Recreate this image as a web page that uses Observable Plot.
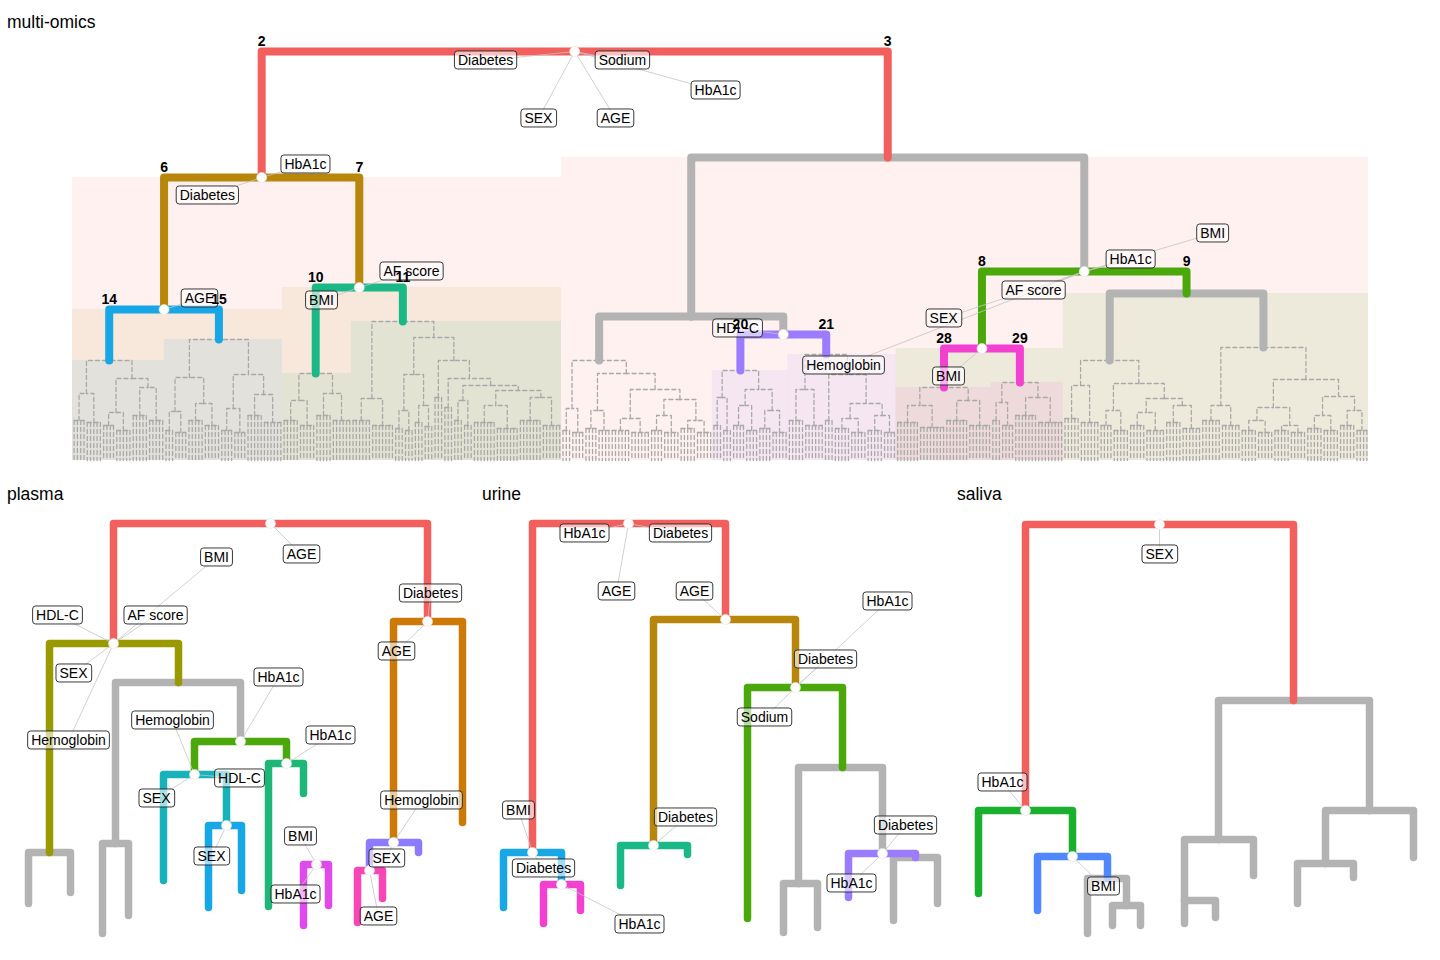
<!DOCTYPE html>
<html><head><meta charset="utf-8">
<script src="https://cdn.jsdelivr.net/npm/d3@7"></script>
<script src="https://cdn.jsdelivr.net/npm/@observablehq/plot@0.6"></script>
<style>
body{margin:0;background:#fff;font-family:"Liberation Sans",Arial,Helvetica,sans-serif;}
#wrap{position:relative;width:1440px;height:960px;overflow:hidden;background:#fff}
.title{position:absolute;font-size:17.5px;color:#000;line-height:20px;font-family:"Liberation Sans",Arial,sans-serif}
</style></head>
<body><div id="wrap">
<div class="title" style="left:7px;top:12px">multi-omics</div>
<div class="title" style="left:7px;top:484px">plasma</div>
<div class="title" style="left:482px;top:484px">urine</div>
<div class="title" style="left:957px;top:484px">saliva</div>
</div>
<script>
// ===================== DATA =====================
// ---- multi-omics: dashed sub-dendrograms under each cluster, in leaf order.
// internal node = [height, left, right]; leaf bundle = [height, leafCount]
const moSubtreeOrder = ["S14","S15","S10","S11","Sg1","S20","S21","S28","S29","Sg2","Sg3"];
const moSubtrees = {
  S14: [100, [67,[40,4],[38,5]], [82,[48,[35,4],[30,5]],[73,[45,5],[40,5]]]],
  S15: [121, [83,[49,[30,3],[28,4]],[57,[40,5],[35,5]]], [86,[52,[30,4],[28,4]],[66,[45,5],[38,6]]]],
  S10: [87, [60,[40,5],[35,5]], [67,[45,5],[40,6]]],
  S11: [139, [62,[40,6],[35,7]],
        [123, [86,[50,[32,3],[30,3]],[55,[38,3],[34,3]]],
              [100, [63,3], [82, [53,3], [75, [60,[40,3],[35,3]], [70,[55,[38,7],[32,7]],[63,[40,7],[35,6]]]]]]]],
  Sg1: [100, [52,[30,3],[28,4]], [87, [50,[32,4],[30,4]], [71, [42,[30,6],[28,6]], [61,[45,[30,4],[28,5]],[40,[32,5],[28,5]]]]]],
  S20: [90, [63,[35,3],[30,3]], [71,[55,[35,4],[30,4]],[50,[32,4],[28,5]]]],
  S21: [106, [71,[40,5],[35,6]], [86, [40,3], [57,[42,[32,5],[28,5]],[45,[30,5],[28,4]]]]],
  S28: [73, [55,[38,7],[33,8]], [60,[40,7],[35,7]]],
  S29: [78, [58,[40,3],[35,4]], [63,[45,7],[38,8]]],
  Sg2: [100, [75,[42,5],[38,6]], [77,[50,[35,4],[30,5]],[62,[48,[35,5],[30,6]],[55,[38,5],[32,6]]]]],
  Sg3: [113, [55,[40,6],[35,6]], [81,[53,[40,[30,5],[28,5]],[35,[30,5],[28,5]]],[64,[45,[32,5],[30,5]],[50,[35,5],[30,4]]]]]
};
// upper tree: [id, parent, height, cluster]; terminals take height from their sub-dendrogram
const moTree = [
  ["root", null, 409, "A"],
  ["n2","root",283,"A"], ["n3","root",303,"A"],
  ["n6","n2",151,"B"], ["n7","n2",173,"B"],
  ["S14","n6",null,"C"], ["S15","n6",null,"C"],
  ["S10","n7",null,"D"], ["S11","n7",null,"D"],
  ["gA","n3",144,"G"], ["gB","n3",189,"G"],
  ["Sg1","gA",null,"G"], ["gP","gA",126,"G"],
  ["S20","gP",null,"E"], ["S21","gP",null,"E"],
  ["n8","gB",112,"F"], ["n9","gB",167,"F"],
  ["S28","n8",null,"H"], ["S29","n8",null,"H"],
  ["Sg2","n9",null,"G"], ["Sg3","n9",null,"G"]
];
const moNumbers = [["n2","2"],["n3","3"],["n6","6"],["n7","7"],["S14","14"],["S15","15"],["S10","10"],["S11","11"],
  ["S20","20"],["S21","21"],["n8","8"],["n9","9"],["S28","28"],["S29","29"]];
const moDots = ["root","n2","n6","n7","gP","gB","n8"];
// [node, label, x (leaf units), height]
const moLabels = [
  ["root","Diabetes",125.9,400],["root","Sodium",167.6,400],["root","HbA1c",196,370],["root","SEX",142,342],["root","AGE",165.5,342],
  ["n2","HbA1c",71,296],["n2","Diabetes",41.1,265],
  ["n6","AGE",38.7,162],
  ["n7","AF score",103.3,189],["n7","BMI",75.9,160],
  ["gP","HDL-C",202.7,132],
  ["gB","HbA1c",322.5,201],["gB","BMI",347.5,227],["gB","AF score",292.9,170],["gB","SEX",265.5,142],["gB","Hemoglobin",235,95],
  ["n8","BMI",267,84]
];

// ---- plasma: [id, parent, x, height, cluster]
const plasmaTree = [
  ["root",null,270,417,"A"],
  ["ol","root",113,297,"A"], ["or","root",427,319,"A"],
  ["olL","ol",49,88,"I"], ["olL1","olL",28,37,"G"], ["olL2","olL",70,48,"G"],
  ["olR","ol",178,258,"I"],
  ["g1","olR",115,97,"G"], ["g1a","g1",102,7,"G"], ["g1b","g1",128,25,"G"],
  ["gr","olR",240,199,"G"],
  ["te","gr",194,166,"F"], ["teL","te",163,60,"J"], ["bl","te",226,115,"J"],
  ["blL","bl",208,33,"C"], ["blR","bl",241,50,"C"],
  ["em","gr",286,177,"F"], ["emL","em",268,34,"K"], ["emR","em",303,147,"K"],
  ["mg",null,316,76,"L"], ["mgL","mg",303,15,"L"], ["mgR","mg",328,35,"L"],
  ["pu","or",393,98,"M"], ["orR","or",462,118,"M"],
  ["pk","pu",369,70,"N"], ["puR","pu",418,88,"N"],
  ["pkL","pk",357,18,"O"], ["pkR","pk",382,42,"O"]
];
const plasmaDots = ["root","ol","or","gr","te","em","bl","mg","pu","pk"];
const plasmaLabels = [
  ["root","AGE",301,386],
  ["ol","BMI",216,383],["ol","HDL-C",57,325],["ol","AF score",155,325],["ol","SEX",73,267],["ol","Hemoglobin",68,200],
  ["or","Diabetes",430,347],["or","AGE",396,289],
  ["gr","HbA1c",278,263],
  ["te","Hemoglobin",172,220],["te","HDL-C",239,162],["te","SEX",156,142],
  ["em","HbA1c",330,205],
  ["bl","SEX",211,84],
  ["mg","BMI",300,104],["mg","HbA1c",295,46],
  ["pu","Hemoglobin",421,140],["pu","SEX",386,82],
  ["pk","AGE",378,24]
];

// ---- urine
const urineTree = [
  ["root",null,148,417,"A"],
  ["bn","root",52,88,"A"], ["gd","root",245,321,"A"],
  ["bL","bn",23,33,"C"], ["mg","bn",81,56,"C"],
  ["mgL","mg",63,17,"H"], ["mgR","mg",100,30,"H"],
  ["tl","gd",173,95,"B"], ["tlL","tl",140,55,"D"], ["tlR","tl",207,86,"D"],
  ["gn","gd",315,253,"B"], ["gnL","gn",267,22,"F"], ["gy","gn",362,173,"F"],
  ["gyL","gy",318,57,"G"], ["gyL1","gyL",303,8,"G"], ["gyL2","gyL",337,13,"G"],
  ["pu","gy",402,87,"G"], ["puL","pu",368,43,"E"], ["puR","pu",435,83,"E"],
  ["puR1","puR",413,20,"G"], ["puR2","puR",457,37,"G"]
];
const urineDots = ["root","bn","mg","gd","tl","gn","pu"];
const urineLabels = [
  ["root","HbA1c",104,407],["root","Diabetes",200,407],["root","AGE",136,349],
  ["gd","AGE",214,349],
  ["gn","HbA1c",407,339],["gn","Diabetes",345,281],["gn","Sodium",284,223],
  ["bn","BMI",38,130],["bn","Diabetes",63,72],
  ["mg","HbA1c",159,16],
  ["tl","Diabetes",205,123],
  ["pu","Diabetes",425,115],["pu","HbA1c",371,57]
];

// ---- saliva
const salivaTree = [
  ["root",null,199,416,"A"],
  ["gr","root",65,130,"A"], ["rr","root",333,240,"A"],
  ["grL","gr",18,47,"P"], ["bl","gr",112,84,"P"],
  ["blL","bl",77,30,"Q"], ["g1","bl",147,62,"Q"],
  ["g1a","g1",127,7,"G"], ["g2","g1",166,35,"G"],
  ["g2a","g2",152,15,"G"], ["g2b","g2",180,15,"G"],
  ["rl","rr",258,101,"G"], ["rl1","rl",224,40,"G"],
  ["rl1a","rl1",224,17,"G"], ["rl1b","rl1",255,23,"G"], ["rl2","rl",293,65,"G"],
  ["rr2","rr",409,130,"G"], ["rr2a","rr2",365,77,"G"],
  ["rr2a1","rr2a",337,37,"G"], ["rr2a2","rr2a",393,63,"G"], ["rr2b","rr2",453,83,"G"]
];
const salivaDots = ["root","gr","bl"];
const salivaLabels = [["root","SEX",199,386],["gr","HbA1c",42,158],["bl","BMI",143,54]];

// ===================== STYLE =====================
const palette = {A:"#F25F5C",B:"#B8860B",C:"#17A6E6",D:"#1AB887",E:"#9B7BFE",F:"#4BA80B",G:"#B3B3B3",
  H:"#F240D0",I:"#999900",J:"#17B2BA",K:"#1DB877",L:"#DE4BEA",M:"#CC7A05",N:"#8C7BFF",O:"#F945B5",P:"#19B02E",Q:"#4F87FF"};
const colorScale = {domain:Object.keys(palette), range:Object.values(palette)};
const FONT = "'Liberation Sans', Arial, Helvetica, sans-serif";

// ===================== LAYOUT =====================
function layoutMulti(){
  let leaf = 0, eid = 0;
  const dashed = [], info = {};
  function build(t){
    if (t.length === 2){
      const [h, n] = t, s = leaf; leaf += n;
      const xs = d3.range(n).map(i => s + i + 0.5);
      for (const x of xs){ const e = "d"+(eid++); dashed.push({e,x,y:h},{e,x,y:0}); }
      const e = "d"+(eid++); dashed.push({e,x:xs[0],y:h},{e,x:xs[n-1],y:h});
      return {x:d3.mean(xs), h, lo:s, hi:leaf};
    }
    const [h,a,b] = t;
    const A = build(a), B = build(b), x = (A.x+B.x)/2;
    for (const C of [A,B]){ const e = "d"+(eid++); dashed.push({e,x:C.x,y:C.h},{e,x:C.x,y:h},{e,x,y:h}); }
    return {x, h, lo:A.lo, hi:B.hi};
  }
  for (const k of moSubtreeOrder) info[k] = build(moSubtrees[k]);
  const m = new Map(moTree.map(([id,parent,h,cl]) => [id,{id,parent,h,cl}]));
  function place(id){
    const n = m.get(id);
    const kids = moTree.filter(r => r[1] === id).map(r => place(r[0]));
    if (!kids.length){ Object.assign(n, {x:info[id].x, h:info[id].h, lo:info[id].lo, hi:info[id].hi}); }
    else { n.x = d3.mean(kids, k=>k.x); n.lo = d3.min(kids,k=>k.lo); n.hi = d3.max(kids,k=>k.hi); }
    return n;
  }
  place("root");
  return {m, dashed, nLeaves: leaf};
}

function edgesOf(m){
  const out = [];
  [...m.values()].filter(n => n.parent && m.has(n.parent)).sort((a,b)=>a.h-b.h).forEach(n => {
    const p = m.get(n.parent);
    out.push({e:n.id,cl:n.cl,x:n.x,y:n.h},{e:n.id,cl:n.cl,x:n.x,y:p.h},{e:n.id,cl:n.cl,x:p.x,y:p.h});
  });
  return out;
}

function labelMarks(m, dots, labels){
  const conn = labels.map(([id,t,x,h]) => ({x1:m.get(id).x, y1:m.get(id).h, x2:x, y2:h}));
  const lab = labels.map(([id,t,x,h]) => ({t,x,h}));
  const dd = dots.map(id => m.get(id));
  return [
    Plot.link(conn, {x1:"x1", y1:"y1", x2:"x2", y2:"y2", stroke:"#c4c4c4", strokeWidth:0.8}),
    Plot.dot(dd, {x:"x", y:"h", r:5, fill:"white", stroke:"#e6e6e6", strokeWidth:0.6}),
    Plot.text(lab, {x:"x", y:"h", text:"t", fontSize:14, fill:"black"})
  ];
}

// boxes behind label texts (first text mark of each svg)
function boxify(svg){
  const g = svg.querySelectorAll('g[aria-label="text"]')[0];
  if (!g) return;
  g.querySelectorAll("text").forEach(t => {
    const b = t.getBBox();
    const r = document.createElementNS("http://www.w3.org/2000/svg","rect");
    r.setAttribute("x", b.x-3.5); r.setAttribute("y", b.y-1);
    r.setAttribute("width", b.width+7); r.setAttribute("height", b.height+2);
    r.setAttribute("rx", 3); r.setAttribute("fill","white"); r.setAttribute("fill-opacity","0.6");
    r.setAttribute("stroke","#222"); r.setAttribute("stroke-width","0.9");
    if (t.getAttribute("transform")) r.setAttribute("transform", t.getAttribute("transform"));
    t.parentNode.insertBefore(r, t);
  });
}

const wrap = document.getElementById("wrap");
function put(svg, left, top){
  svg.style.position = "absolute"; svg.style.left = left+"px"; svg.style.top = top+"px";
  wrap.appendChild(svg); boxify(svg);
}

// ---- multi-omics plot
{
  const {m, dashed, nLeaves} = layoutMulti();
  const shades = moNumbers.map(([id]) => m.get(id)).sort((a,b)=>b.h-a.h);
  const nums = moNumbers.map(([id,t]) => { const n = m.get(id), p = m.get(n.parent); return {t, x:n.x, h:p.h}; });
  const svg = Plot.plot({
    width:1440, height:470, marginLeft:72, marginRight:72, marginTop:50, marginBottom:10,
    x:{domain:[0,nLeaves], axis:null}, y:{domain:[0,410], axis:null},
    color:colorScale,
    style:{fontFamily:FONT, background:"transparent", overflow:"visible"},
    marks:[
      Plot.rect(shades, {x1:"lo", x2:"hi", y1:d=>0, y2:"h", fill:"cl", fillOpacity:0.09}),
      Plot.line(dashed, {x:"x", y:"y", z:"e", stroke:"#a9a9a9", strokeWidth:1.3, strokeDasharray:"4,3"}),
      Plot.line(edgesOf(m), {x:"x", y:"y", z:"e", stroke:"cl", strokeWidth:8, strokeLinecap:"round", strokeLinejoin:"round"}),
      ...labelMarks(m, moDots, moLabels),
      Plot.text(nums, {x:"x", y:"h", text:"t", dy:-10, fontSize:14, fontWeight:"bold", fill:"black"})
    ]
  });
  put(svg, 0, 0);
}

// ---- bottom panels
function bottom(rows, dots, labels, left){
  const m = new Map(rows.map(([id,parent,x,h,cl]) => [id,{id,parent,x,h,cl}]));
  const svg = Plot.plot({
    width:480, height:470, marginLeft:0, marginRight:0, marginTop:40, marginBottom:10,
    x:{domain:[0,480], axis:null}, y:{domain:[0,420], axis:null},
    color:colorScale,
    style:{fontFamily:FONT, background:"transparent", overflow:"visible"},
    marks:[
      Plot.line(edgesOf(m), {x:"x", y:"y", z:"e", stroke:"cl", strokeWidth:7.5, strokeLinecap:"round", strokeLinejoin:"round"}),
      ...labelMarks(m, dots, labels)
    ]
  });
  put(svg, left, 480);
}
bottom(plasmaTree, plasmaDots, plasmaLabels, 0);
bottom(urineTree, urineDots, urineLabels, 480);
bottom(salivaTree, salivaDots, salivaLabels, 960);
</script>
</body></html>
